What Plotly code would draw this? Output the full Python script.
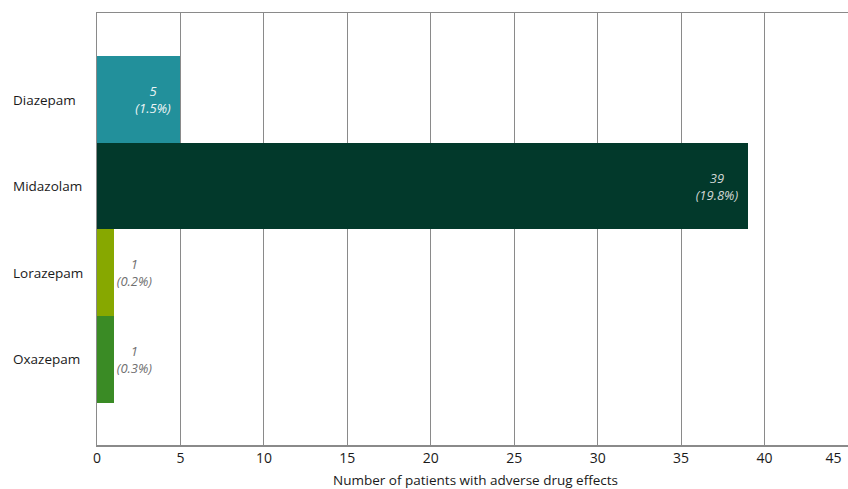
import plotly.graph_objects as go

drugs = ["Diazepam", "Midazolam", "Lorazepam", "Oxazepam"]
patients = [5, 39, 1, 1]
percents = ["1.5%", "19.8%", "0.2%", "0.3%"]
bar_colors = ["#22909B", "#02392B", "#87A800", "#3A8B25"]
text_colors = ["#EEF5F6", "#D0D6D3", "#707070", "#707070"]
text_positions = ["inside", "inside", "outside", "outside"]
x_ticks = [0, 5, 10, 15, 20, 25, 30, 35, 40, 45]

FONT = "Open Sans"
PAD = "&nbsp;&nbsp;"

labels = []
for n, p, pos in zip(patients, percents, text_positions):
    if pos == "inside":
        labels.append(f"<i>{n}{PAD}<br>({p}){PAD}</i>")
    else:
        labels.append(f"<i>{n}<br>({p})</i>")

tick_text = [str(t) for t in x_ticks]
tick_text[-1] = tick_text[-1] + "&nbsp;" * 8  # keep last label inside the page edge

fig = go.Figure()
fig.add_trace(go.Bar(
    y=list(range(len(drugs))),
    x=patients,
    orientation="h",
    marker=dict(color=bar_colors, line=dict(width=0)),
    text=labels,
    textposition=text_positions,
    insidetextanchor="end",
    textfont=dict(family=FONT, size=13, color=text_colors),
    outsidetextfont=dict(family=FONT, size=13, color="#707070"),
    insidetextfont=dict(family=FONT, size=13, color=text_colors[:2] + ["#707070"] * 2),
    cliponaxis=False,
    constraintext="none",
    hoverinfo="skip",
    width=1,
))

for i, d in enumerate(drugs):
    fig.add_annotation(
        x=-86 / 751, xref="paper", y=i, yref="y",
        text=d, showarrow=False, xanchor="left", yanchor="middle",
        font=dict(family=FONT, size=13.5, color="#1a1a1a"),
    )

fig.add_annotation(
    x=(475 - 97) / 751, xref="paper", y=-(480 - 445) / 432, yref="paper",
    text="Number of patients with adverse drug effects", showarrow=False,
    xanchor="center", yanchor="middle",
    font=dict(family=FONT, size=13.5, color="#1a1a1a"),
)

fig.update_layout(
    width=848, height=489,
    margin=dict(l=97, r=0, t=13, b=44, autoexpand=False),
    plot_bgcolor="white", paper_bgcolor="white",
    showlegend=False,
    bargap=0,
    uniformtext=dict(mode=False),
    xaxis=dict(
        range=[0, 45], tickvals=x_ticks, ticktext=tick_text,
        showgrid=True, gridcolor="#8a8a8a", gridwidth=1.2,
        showline=True, linecolor="#8a8a8a", linewidth=1.5, mirror=True,
        zeroline=False, ticks="", automargin=False,
        ticklabeloverflow="allow",
        tickfont=dict(family=FONT, size=14, color="#1a1a1a"),
        fixedrange=True,
    ),
    yaxis=dict(
        range=[3.99, -1], showticklabels=False, showgrid=False,
        showline=True, linecolor="#8a8a8a", linewidth=1.5,
        zeroline=False, ticks="", fixedrange=True, automargin=False,
    ),
)

fig.write_html(
    "out.html",
    config={"displayModeBar": False, "staticPlot": True},
    post_script="document.body.style.margin='0px';document.body.style.overflow='hidden';",
)
